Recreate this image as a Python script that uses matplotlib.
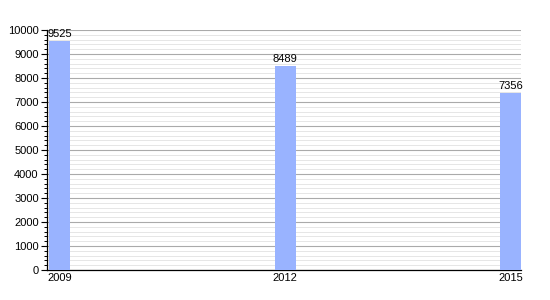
import matplotlib.pyplot as plt
import numpy as np

plt.rcParams['font.family'] = ['Liberation Sans', 'DejaVu Sans']

years = [2009, 2012, 2015]
population = [9525, 8489, 7356]

figure = plt.figure(figsize=(5.5, 3.0), dpi=100)
axes = figure.add_axes([0.0855, 0.1, 0.862, 0.8])

bars = axes.bar(years, population, width=0.28, color='#99b3ff', zorder=3)
for x, y in zip(years, population):
    axes.text(x, y + 100, str(y), ha='center', va='bottom', fontsize=8, zorder=4)

axes.set_xlim(2008.83, 2015.14)
axes.set_ylim(0, 10000)
axes.set_yticks(np.arange(0, 10001, 1000))
axes.set_yticks(np.arange(0, 10001, 200), minor=True)
axes.set_xticks(years)
axes.set_xticklabels([str(y) for y in years])
axes.tick_params(axis='x', length=0, pad=2, labelsize=8)
axes.tick_params(axis='y', which='major', length=4, width=0.8, labelsize=8, pad=2)
axes.tick_params(axis='y', which='minor', length=2.5, width=0.7)

axes.grid(axis='y', which='major', color='#aaaaaa', linewidth=0.8, zorder=1)
axes.grid(axis='y', which='minor', color='#e2e2e2', linewidth=0.6, zorder=0)
axes.spines['top'].set_visible(False)
axes.spines['right'].set_visible(False)
axes.spines['left'].set_linewidth(0.9)
axes.spines['bottom'].set_linewidth(0.9)

plt.savefig('out.png', dpi=100)
